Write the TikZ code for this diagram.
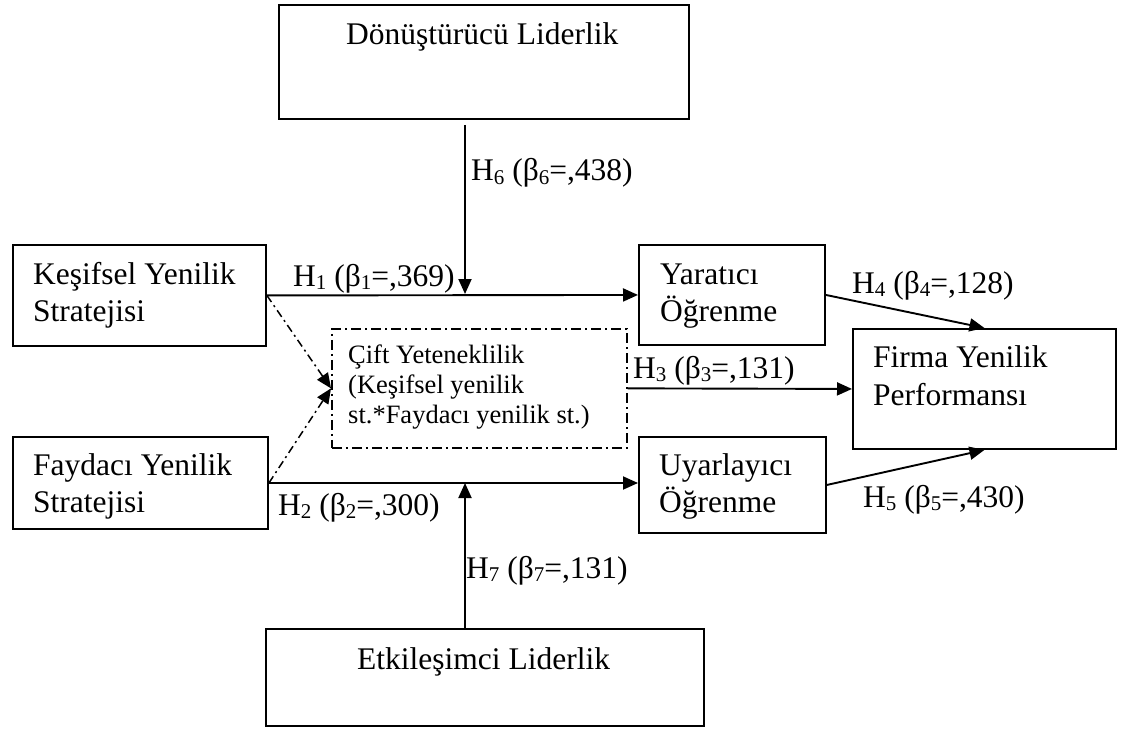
\documentclass[tikz,border=0pt]{standalone}
\usepackage{fontspec}
\setmainfont{Liberation Serif}
\usetikzlibrary{arrows.meta}
\newcommand\lowsub[1]{\raisebox{-0.22ex}{\fontsize{21}{21}\selectfont #1}}
\begin{document}
\begin{tikzpicture}[x=1pt,y=-1pt,
  box/.style={draw, line width=1.9pt, inner sep=0pt, anchor=north west},
  dbox/.style={draw, line width=1.7pt, inner sep=0pt, anchor=north west,
    dash pattern=on 10pt off 4pt on 2pt off 4pt},
  txt/.style={inner sep=0pt, anchor=base west, font=\fontsize{31.5}{37}\selectfont},
  lbl/.style={inner sep=0pt, anchor=base west, font=\fontsize{31.5}{37}\selectfont},
  arr/.style={line width=1.9pt, -{Triangle[length=15pt,width=13pt]}},
  darr/.style={line width=1.5pt, dash pattern=on 8pt off 4pt on 2pt off 4pt,
    -{Triangle[length=15pt,width=13pt]}}]
\useasboundingbox (0,0) rectangle (1122,730);
% boxes
\node[box, minimum width=410pt, minimum height=114pt] (don) at (278,4) {};
\node[box, minimum width=253pt, minimum height=101pt] (kes) at (12,244) {};
\node[box, minimum width=255pt, minimum height=92pt] (fay) at (12,436) {};
\node[dbox, minimum width=295pt, minimum height=119pt] (cift) at (331,328) {};
\node[box, minimum width=186pt, minimum height=100pt] (yar) at (638,244) {};
\node[box, minimum width=187pt, minimum height=96pt] (uya) at (638,436) {};
\node[box, minimum width=263pt, minimum height=120pt] (firma) at (852,328) {};
\node[box, minimum width=438pt, minimum height=97pt] (etk) at (265,628) {};
% box texts
\node[txt] (donT) at (346,45) {Dönüştürücü Liderlik};
\node[txt] (etkT) at (357,669) {Etkileşimci Liderlik};
\node[txt] (kesT) at (33,284) {\begin{tabular}[t]{@{}l@{}}Keşifsel Yenilik\\Stratejisi\end{tabular}};
\node[txt] (fayT) at (33,475) {\begin{tabular}[t]{@{}l@{}}Faydacı Yenilik\\Stratejisi\end{tabular}};
\node[txt] (yarT) at (660,284) {\begin{tabular}[t]{@{}l@{}}Yaratıcı\\Öğrenme\end{tabular}};
\node[txt] (uyaT) at (659,475) {\begin{tabular}[t]{@{}l@{}}Uyarlayıcı\\Öğrenme\end{tabular}};
\node[txt] (firmaT) at (873,367) {\fontsize{31.5}{38}\selectfont\begin{tabular}[t]{@{}l@{}}Firma Yenilik\\Performansı\end{tabular}};
\node[txt] (ciftT) at (348,363) {\fontsize{26.5}{30}\selectfont\begin{tabular}[t]{@{}l@{}}Çift Yeteneklilik\\(Keşifsel yenilik\\st.*Faydacı yenilik st.)\end{tabular}};
% helper coordinates
\coordinate (m1) at (465,294);
\coordinate (h2) at (465,483);
% connectors
\draw[arr] (kes.east) -- (yar.west);
\draw[arr] (fay.east |- h2) -- (uya.west |- h2);
\draw[arr, shorten <=5pt] (don.south -| m1) -- (m1);
\draw[arr] (etk.north -| h2) -- (h2);
\draw[arr] (cift.east) -- (firma.west);
\draw[arr] (yar.east) -- (firma.north);
\draw[arr] (uya.east) -- (firma.south);
\draw[darr] (kes.east) -- (cift.west);
\draw[darr] (fay.east |- h2) -- (cift.west);
% labels
\node[lbl] (l6) at (471,181) {H\lowsub{6} (β\lowsub{6}=,438)};
\node[lbl] (l1) at (293,286) {H\lowsub{1} (β\lowsub{1}=,369)};
\node[lbl] (l2) at (278,515) {H\lowsub{2} (β\lowsub{2}=,300)};
\node[lbl] (l7) at (466,578) {H\lowsub{7} (β\lowsub{7}=,131)};
\node[lbl] (l3) at (633,378) {H\lowsub{3} (β\lowsub{3}=,131)};
\node[lbl] (l4) at (852,293) {H\lowsub{4} (β\lowsub{4}=,128)};
\node[lbl] (l5) at (863,507) {H\lowsub{5} (β\lowsub{5}=,430)};
\end{tikzpicture}
\end{document}
